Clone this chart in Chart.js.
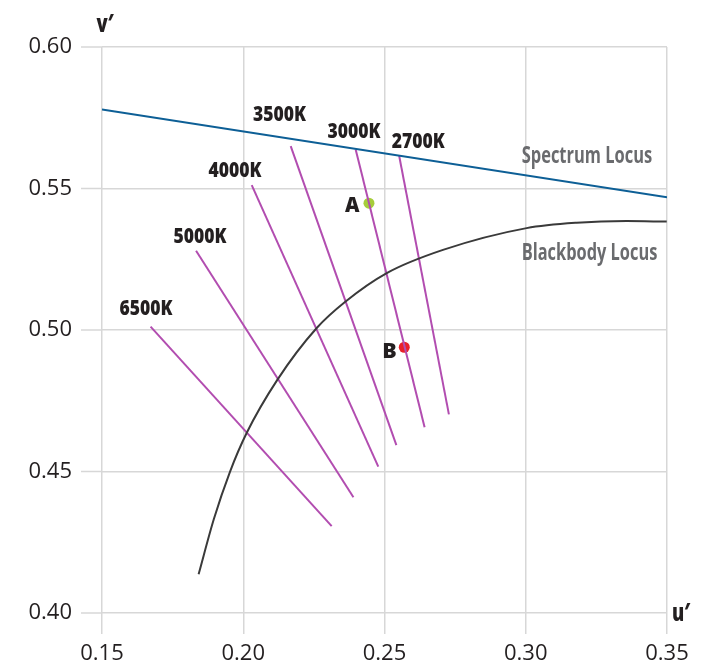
<!DOCTYPE html>
<html><head><meta charset="utf-8">
<script src="https://cdn.jsdelivr.net/npm/chart.js@4.4.0/dist/chart.umd.min.js"></script>
<style>html,body{margin:0;padding:0;background:#fff}#wrap{width:708px;height:664px}</style>
</head><body><div id="wrap"><canvas id="c" width="708" height="664"></canvas></div>
<script>
const xTicks = [0.15, 0.20, 0.25, 0.30, 0.35];
const yTicks = [0.40, 0.45, 0.50, 0.55, 0.60];

const spectrumU = [0.15, 0.35];
const spectrumV = [0.5779, 0.5469];

const blackbodyU = [0.1842, 0.1896, 0.1953, 0.2012, 0.2120, 0.2260, 0.2360, 0.2508, 0.2707, 0.3003, 0.3180, 0.3357, 0.3499];
const blackbodyV = [0.4137, 0.4332, 0.4499, 0.4636, 0.4823, 0.5007, 0.5099, 0.5201, 0.5283, 0.5360, 0.5379, 0.5385, 0.5383];

const isoLabels = ['6500K', '5000K', '4000K', '3500K', '3000K', '2700K'];
const isoU1 = [0.1672, 0.1833, 0.2030, 0.2168, 0.2398, 0.2552];
const isoV1 = [0.5012, 0.5280, 0.5512, 0.5650, 0.5638, 0.5615];
const isoU2 = [0.2313, 0.2390, 0.2478, 0.2542, 0.2642, 0.2728];
const isoV2 = [0.4307, 0.4409, 0.4517, 0.4593, 0.4656, 0.4702];

const pointLabels = ['A', 'B'];
const pointU = [0.2445, 0.2570];
const pointV = [0.5448, 0.4939];

// label styling (pixel offsets from the top end of each isotherm / from each point)
const isoLabelOffsets = [[-4.5, -11.7], [4, -7.7], [-16.7, -8], [-11.2, -25.3], [-1.7, -11.6], [19, -8.3]];
const pointLabelOffsets = [[-16.7, 8.4], [-14.8, 10.7]];

const FONT = '"Open Sans", "DejaVu Sans", sans-serif';
const INK = '#231f20';
const GRID = '#d7d7d7';
const TICK_LEN = 21;

function toXY(us, vs) { return us.map((u, i) => ({x: u, y: vs[i]})); }

const datasets = [];
datasets.push({
  label: 'Spectrum Locus', data: toXY(spectrumU, spectrumV), showLine: true,
  borderColor: '#0d5f96', borderWidth: 2, pointRadius: 0
});
datasets.push({
  label: 'Blackbody Locus', data: toXY(blackbodyU, blackbodyV), showLine: true,
  borderColor: '#3a3a3a', borderWidth: 2, pointRadius: 0, cubicInterpolationMode: 'monotone'
});
isoLabels.forEach((lab, i) => {
  datasets.push({
    label: lab, data: [{x: isoU1[i], y: isoV1[i]}, {x: isoU2[i], y: isoV2[i]}], showLine: true,
    borderColor: '#b24db0', borderWidth: 2, pointRadius: 0
  });
});
datasets.push({
  label: 'Points', data: toXY(pointU, pointV), showLine: false,
  pointRadius: 5.5, pointBorderWidth: 0,
  pointBackgroundColor: ['#a6cd3b', '#e8202a'], pointBorderColor: ['#a6cd3b', '#e8202a']
});

function drawText(ctx, text, x, y, o) {
  ctx.save();
  ctx.font = `${o.weight || 'bold'} ${o.size}px ${FONT}`;
  const w = ctx.measureText(text).width;
  const sx = o.width ? o.width / w : 1;
  ctx.translate(x, y);
  ctx.scale(sx, 1);
  ctx.textAlign = o.align || 'center';
  ctx.textBaseline = 'alphabetic';
  ctx.fillStyle = o.color || INK;
  ctx.fillText(text, 0, 0);
  ctx.restore();
}

const tickPlugin = {
  id: 'tickExt',
  beforeDatasetsDraw(chart) {
    const ctx = chart.ctx, ca = chart.chartArea;
    const ys = chart.scales.y;
    ctx.save();
    ctx.strokeStyle = GRID; ctx.lineWidth = 1.5;
    ctx.beginPath();
    yTicks.forEach(v => { const p = ys.getPixelForValue(v); ctx.moveTo(ca.left - TICK_LEN, p); ctx.lineTo(ca.left, p); });
    ctx.stroke();
    ctx.restore();
  }
};

const labelPlugin = {
  id: 'labels',
  afterDatasetsDraw(chart) {
    const ctx = chart.ctx;
    const xs = chart.scales.x, ys = chart.scales.y;
    isoLabels.forEach((lab, i) => {
      const px = xs.getPixelForValue(isoU1[i]) + isoLabelOffsets[i][0];
      const py = ys.getPixelForValue(isoV1[i]) + isoLabelOffsets[i][1];
      drawText(ctx, lab, px, py, {size: 20.5, weight: '800', width: 53});
    });
    pointLabels.forEach((lab, i) => {
      const px = xs.getPixelForValue(pointU[i]) + pointLabelOffsets[i][0];
      const py = ys.getPixelForValue(pointV[i]) + pointLabelOffsets[i][1];
      drawText(ctx, lab, px, py, {size: 21, weight: '800', width: 14.5});
    });
    const ca = chart.chartArea;
    drawText(ctx, 'Spectrum Locus', 521.7, 163.3, {size: 23, weight: 'bold', width: 130.5, align: 'left', color: '#6a6b6e'});
    drawText(ctx, 'Blackbody Locus', 521.7, 260, {size: 23, weight: 'bold', width: 135.6, align: 'left', color: '#6a6b6e'});
    drawText(ctx, 'v\u2032', ca.left + 3, ca.top - 15, {size: 24, weight: '800', width: 17});
    drawText(ctx, 'u\u2032', ca.right + 5, ca.bottom + 8, {size: 24, weight: '800', width: 18, align: 'left'});
  }
};

new Chart(document.getElementById('c'), {
  type: 'scatter',
  data: {datasets},
  options: {
    responsive: false, animation: false, devicePixelRatio: 1,
    layout: {padding: {top: 47, right: 41, left: 0, bottom: 0}},
    plugins: {legend: {display: false}, tooltip: {enabled: false}},
    scales: {
      x: {
        type: 'linear', min: 0.15, max: 0.35,
        afterBuildTicks: s => { s.ticks = xTicks.map(v => ({value: v})); },
        afterFit: s => { s.height = 51; },
        grid: {color: GRID, lineWidth: 1.5, drawTicks: true, tickLength: TICK_LEN, tickColor: GRID},
        border: {display: false},
        ticks: {font: {family: FONT, size: 22}, color: INK, padding: 7, maxRotation: 0,
          callback: v => Number(v).toFixed(2)}
      },
      y: {
        type: 'linear', min: 0.40, max: 0.60,
        afterBuildTicks: s => { s.ticks = yTicks.map(v => ({value: v})); },
        afterFit: s => { s.width = 102; },
        grid: {color: GRID, lineWidth: 1.5, drawTicks: false},
        border: {display: false},
        ticks: {font: {family: FONT, size: 22}, color: INK, padding: 30,
          callback: v => Number(v).toFixed(2)}
      }
    }
  },
  plugins: [tickPlugin, labelPlugin]
});
</script>
</body></html>
